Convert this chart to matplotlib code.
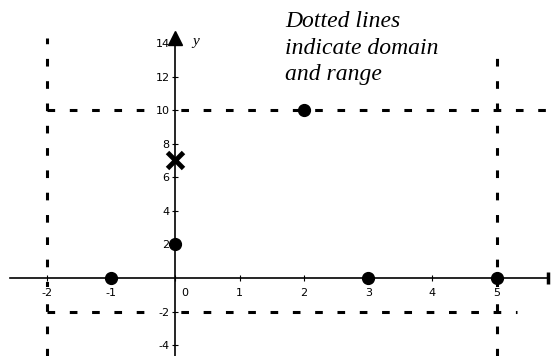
import numpy as np
import matplotlib
matplotlib.use("Agg")
import matplotlib.pyplot as plt

# === data ===
points_x = [-1, 0, 2, 3, 5]
points_y = [0, 2, 10, 0, 0]
cross_x = [0]
cross_y = [7]

domain_lo, domain_hi = -2, 5
range_lo, range_hi = -2, 10

x_ticks = [-2, -1, 0, 1, 2, 3, 4, 5]
x_labels = ["-2", "-1", "", "1", "2", "3", "4", "5"]
y_ticks = [-4, -2, 2, 4, 6, 8, 10, 12, 14]
y_labels = ["-4", "-2", "2", "4", "6", "8", "10", "12", "14"]

note = "Dotted lines\nindicate domain\nand range"

# === figure ===
fig = plt.figure(figsize=(5.51, 3.56), dpi=100)
ax = fig.add_axes([0, 0, 1, 1])
ax.set_xlim(-2.726, 5.843)
ax.set_ylim(-4.65, 16.56)
ax.set_axisbelow(False)

# axes through origin
for s in ["top", "right"]:
    ax.spines[s].set_visible(False)
ax.spines["left"].set_position("zero")
ax.spines["bottom"].set_position("zero")
ax.spines["left"].set_bounds(-4.65, 14.3)
ax.spines["bottom"].set_bounds(-2.57, 5.79)
ax.spines["left"].set_linewidth(1.2)
ax.spines["bottom"].set_linewidth(1.2)

ax.set_xticks(x_ticks)
ax.set_xticklabels(x_labels)
ax.set_yticks(y_ticks)
ax.set_yticklabels(y_labels)
ax.tick_params(direction="inout", length=4, width=0.8, labelsize=8)
ax.tick_params(axis="x", pad=5)
ax.tick_params(axis="y", pad=2)
# labels sit in a gap of the dotted lines
for lbl in ax.get_xticklabels() + ax.get_yticklabels():
    lbl.set_bbox(dict(facecolor="white", edgecolor="none", pad=0.6))
ax.text(0.09, -0.6, "0", ha="left", va="top", fontsize=8)

# arrow on y axis, end bar on x axis
ax.plot([0], [14.3], marker="^", ms=10, color="black", clip_on=False, zorder=6)
ax.plot([5.79], [0], marker="|", ms=9, mew=2.5, color="black", clip_on=False, zorder=6)
ax.text(0.26, 14.1, "y", fontsize=11, style="italic", family="Liberation Serif",
        ha="left", va="center")

# dotted domain / range lines
dash = dict(color="black", lw=2.2, ls=(0, (2.5, 4.8)))
ax.plot([domain_lo, domain_lo], [-4.65, 14.3], **dash)
ax.plot([domain_hi, domain_hi], [-4.65, 13.8], **dash)
ax.plot([domain_lo, 5.843], [range_hi, range_hi], **dash)
ax.plot([domain_lo, 5.32], [range_lo, range_lo], **dash)

# points
ax.plot(points_x, points_y, "o", ms=8.5, color="black", zorder=5, clip_on=False)
ax.plot(cross_x, cross_y, "x", ms=11, mew=3.5, color="black", zorder=5)
ax.plot(cross_x, cross_y, "o", ms=4, color="black", zorder=6)

ax.text(285 / 551, 1 - 11 / 356, note, transform=ax.transAxes, ha="left", va="top",
        fontsize=17, style="italic", family="Liberation Serif", linespacing=1.35)

fig.savefig("out.png", dpi=100)
